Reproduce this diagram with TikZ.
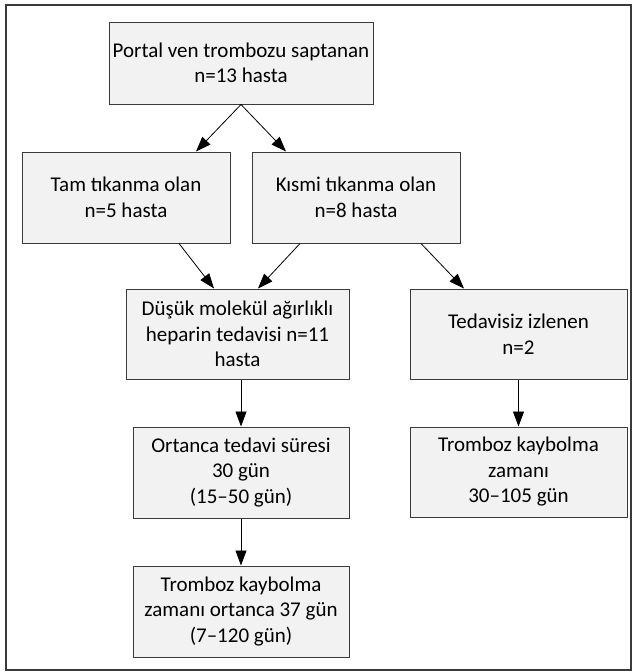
\documentclass[tikz,border=0pt]{standalone}
\usepackage{fontspec}
\setmainfont{Carlito}
\usetikzlibrary{arrows.meta}
\definecolor{boxfill}{HTML}{F2F2F2}
\definecolor{boxline}{HTML}{3A3A3A}
\begin{document}
\begin{tikzpicture}[x=1pt, y=-1pt,
    box/.style={draw=boxline, fill=boxfill, line width=1pt, align=center, inner sep=0pt,
        font=\fontsize{21}{25.5}\selectfont},
    arr/.style={-{Triangle[width=11pt,length=15pt]}, line width=0.8pt}]
    \useasboundingbox (0,0) rectangle (633,672);
    \draw[boxline, line width=1.5pt] (6,5) rectangle (631,670);

    \node[box, minimum width=264pt, minimum height=82pt] (P) at (241,63) {Portal ven trombozu saptanan\\n=13 hasta};
    \node[box, minimum width=208pt, minimum height=91pt] (T) at (126,197.5) {Tam tıkanma olan\\n=5 hasta};
    \node[box, minimum width=208pt, minimum height=91pt] (K) at (356,197.5) {Kısmi tıkanma olan\\n=8 hasta};
    \node[box, minimum width=223pt, minimum height=90pt] (D) at (237.5,334) {Düşük molekül ağırlıklı\\heparin tedavisi n=11\\hasta};
    \node[box, minimum width=217pt, minimum height=90pt] (I) at (518.5,334) {Tedavisiz izlenen\\n=2};
    \node[box, minimum width=216pt, minimum height=91pt] (O) at (241,472.5) {Ortanca tedavi süresi\\30 gün\\(15–50 gün)};
    \node[box, minimum width=217pt, minimum height=90pt] (R) at (518.5,472) {Tromboz kaybolma\\zamanı\\30–105 gün};
    \node[box, minimum width=216pt, minimum height=91pt] (L) at (241,611.5) {Tromboz kaybolma\\zamanı ortanca 37 gün\\(7–120 gün)};

    % arrows between boxes
    \draw[arr] (P.south) -- ([xshift=70pt]T.north);
    \draw[arr] (P.south) -- ([xshift=-70pt]K.north);
    \draw[arr] ([xshift=53pt]T.south) -- ([xshift=-23.5pt]D.north);
    \draw[arr] ([xshift=-56pt]K.south) -- ([xshift=20.5pt]D.north);
    \draw[arr] ([xshift=65pt]K.south) -- ([xshift=-54.5pt]I.north);
    \draw[arr] ([xshift=3.5pt]D.south) -- (O.north);
    \draw[arr] (I.south) -- (R.north);
    \draw[arr] (O.south) -- (L.north);

\end{tikzpicture}
\end{document}
